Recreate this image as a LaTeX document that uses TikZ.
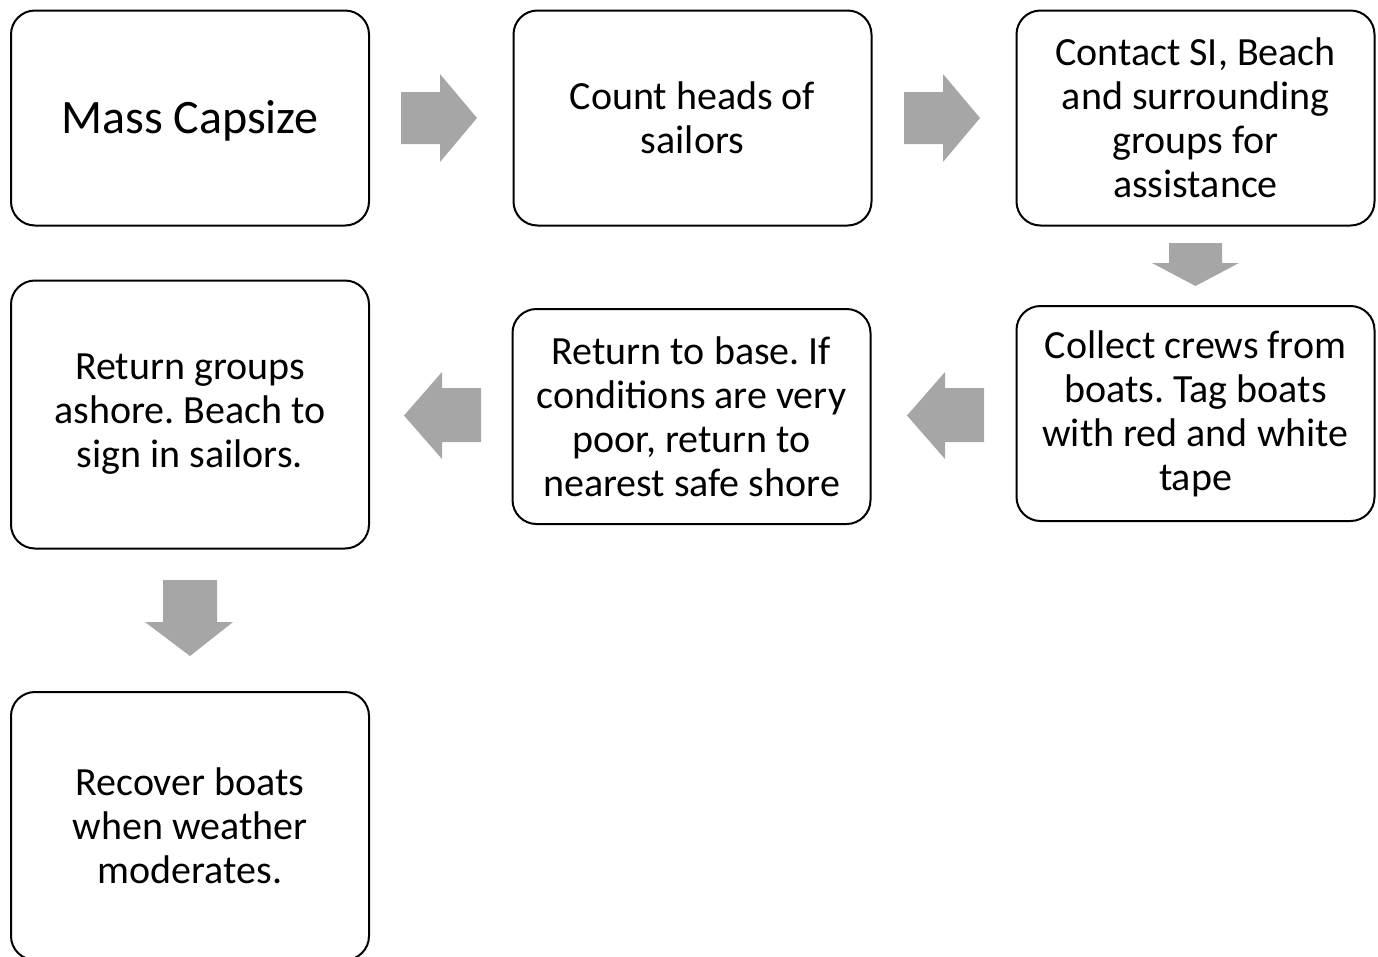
\documentclass[tikz,border=0pt]{standalone}
\usepackage{fontspec}
\setmainfont{Carlito}
\frenchspacing
\tikzset{
  box/.style={draw=black, line width=2pt, rounded corners=24pt, fill=white, align=center,
    font=\fontsize{40}{44}\selectfont, inner sep=0pt},
  blockarrow/.style={fill=black!35, draw=none}
}
\begin{document}
\begin{tikzpicture}[x=1pt,y=-1pt]
\useasboundingbox (0,0) rectangle (1378,956);
% boxes
\node[box, minimum width=358pt, minimum height=215pt, font=\fontsize{48}{52}\selectfont] (b1) at (190,118) {\raisebox{-2.5pt}[\height][\depth]{Mass Capsize}};
\node[box, minimum width=358pt, minimum height=215pt] (b2) at (692.5,118) {Count heads of\\sailors};
\node[box, minimum width=358pt, minimum height=215pt] (b3) at (1195.5,118) {Contact SI, Beach\\and surrounding\\groups for\\assistance};
\node[box, minimum width=358pt, minimum height=215pt] (b4) at (1195.5,413.5) {Collect crews from\\boats. Tag boats\\with red and white\\tape};
\node[box, minimum width=358pt, minimum height=215pt] (b5) at (691.5,416.5) {Return to base. If\\conditions are very\\poor, return to\\nearest safe shore};
\node[box, minimum width=358pt, minimum height=268pt] (b6) at (190,414.5) {Return groups\\ashore. Beach to\\sign in sailors.};
\node[box, minimum width=358pt, minimum height=268pt] (b7) at (190,826) {Recover boats\\when weather\\moderates.};
% block arrows
\fill[blockarrow] (401,92) -- (440,92) -- (440,74) -- (477,118) -- (440,162) -- (440,144) -- (401,144) -- cycle;
\fill[blockarrow] (904,92) -- (943,92) -- (943,74) -- (980,118) -- (943,162) -- (943,144) -- (904,144) -- cycle;
\fill[blockarrow] (1169,243) -- (1222,243) -- (1222,263) -- (1239,263) -- (1195.5,286) -- (1152,263) -- (1169,263) -- cycle;
\fill[blockarrow] (984,388) -- (945,388) -- (945,372) -- (907,415.5) -- (945,459) -- (945,442) -- (984,442) -- cycle;
\fill[blockarrow] (481,388) -- (442,388) -- (442,372) -- (404,415.5) -- (442,459) -- (442,442) -- (481,442) -- cycle;
\fill[blockarrow] (163,580) -- (217,580) -- (217,622) -- (233,622) -- (190,656) -- (145,622) -- (163,622) -- cycle;
\end{tikzpicture}
\end{document}
